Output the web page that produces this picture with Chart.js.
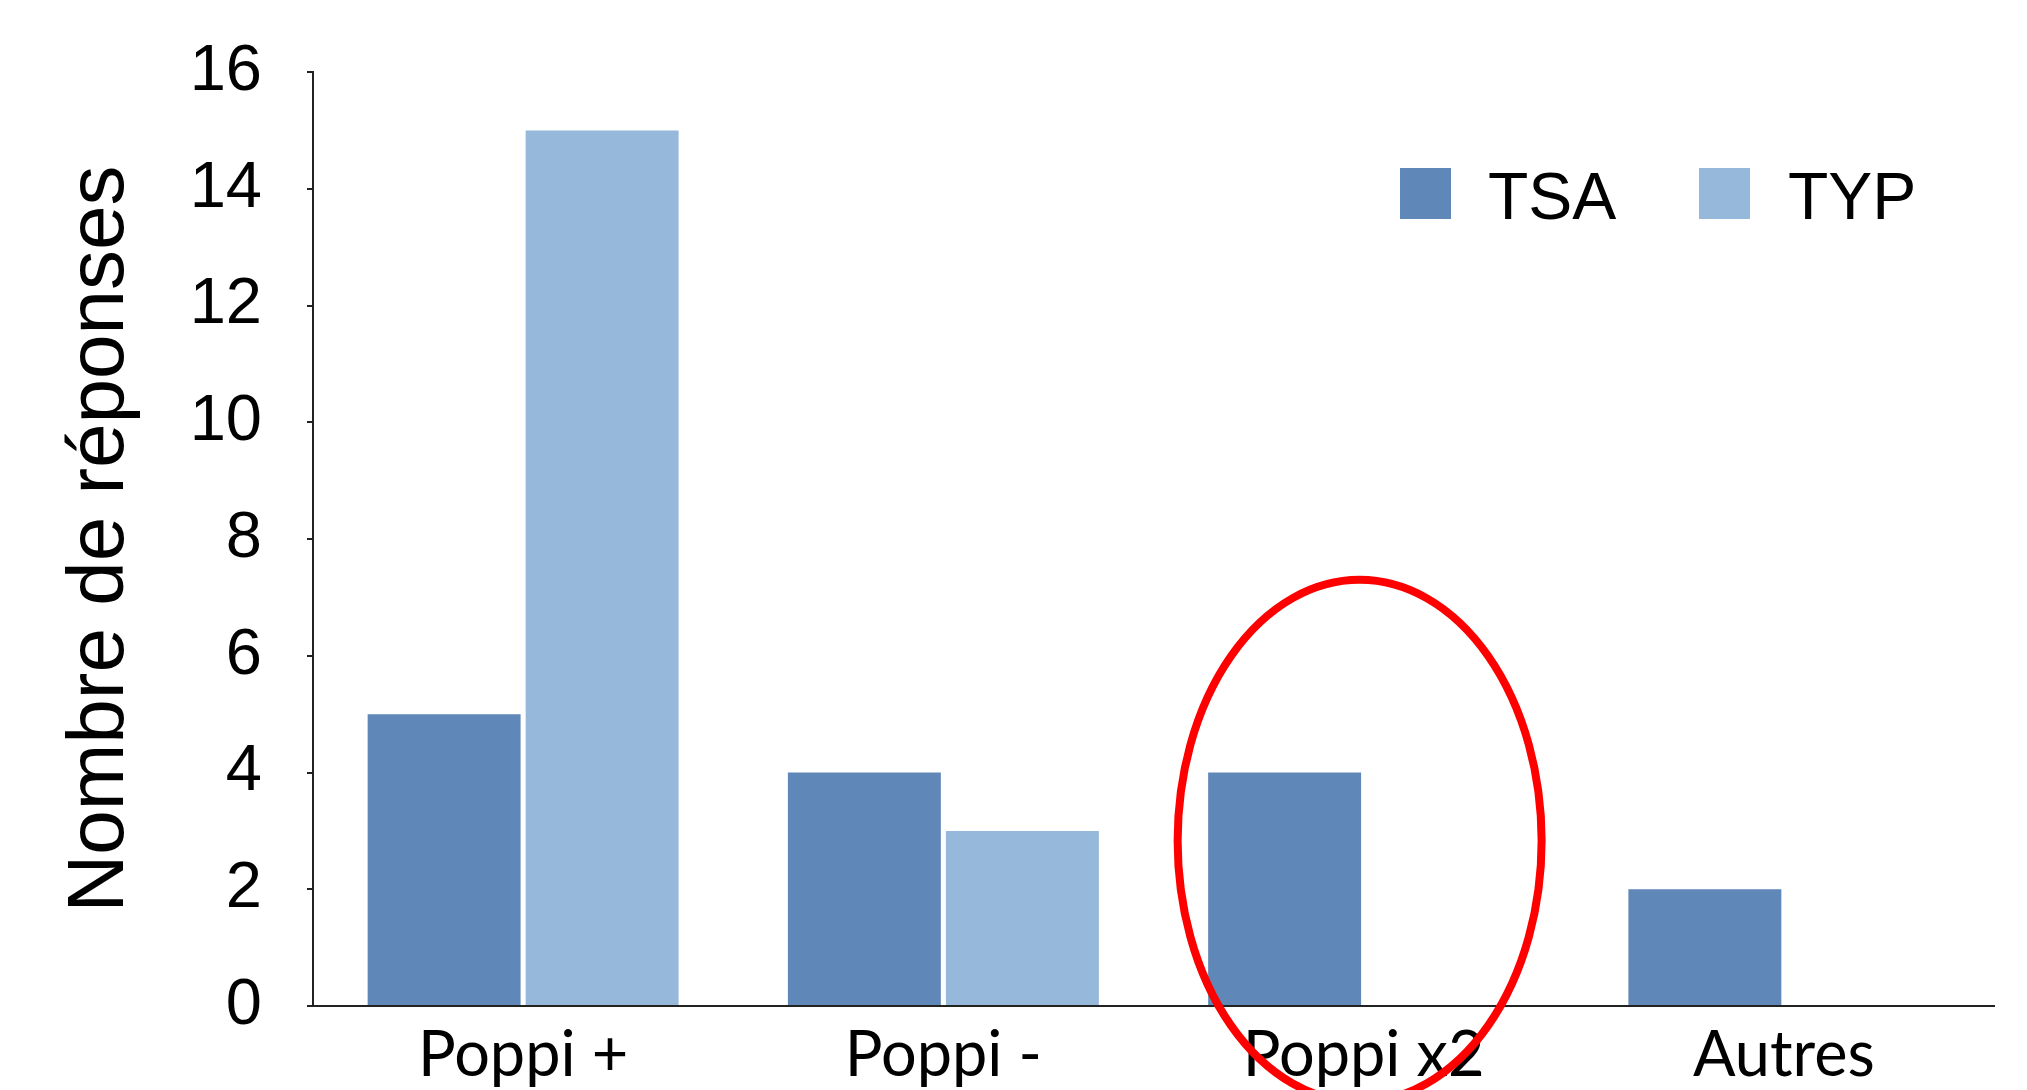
<!DOCTYPE html>
<html>
<head>
<meta charset="utf-8">
<script src="https://cdn.jsdelivr.net/npm/chart.js@4/dist/chart.umd.min.js"></script>
<style>
  html, body { margin: 0; padding: 0; background: #fff; }
  #wrap { width: 2027px; height: 1090px; position: relative; }
</style>
</head>
<body>
<div id="wrap"><canvas id="chart"></canvas></div>
<script>
// data
const categories = ['Poppi +', 'Poppi -', 'Poppi x2', 'Autres'];
const tsaValues = [5, 4, 4, 2];
const typValues = [15, 3, 0, 0];
const seriesNames = ['TSA', 'TYP'];
const yTicks = [0, 2, 4, 6, 8, 10, 12, 14, 16];

const colors = { tsa: '#5f87b8', typ: '#96b8db', axis: '#222', ring: '#ff0000' };

// legend drawn inside the plot, like the original slide
const insideLegend = {
  id: 'insideLegend',
  afterDraw(chart) {
    const ctx = chart.ctx;
    const spots = [{ box: 1400, text: 1488 }, { box: 1699, text: 1788 }];
    ctx.save();
    ctx.font = '66px "Liberation Sans", Arial, sans-serif';
    ctx.textBaseline = 'alphabetic';
    chart.data.datasets.forEach((ds, i) => {
      ctx.fillStyle = ds.backgroundColor;
      ctx.fillRect(spots[i].box, 168, 51, 51);
      ctx.fillStyle = '#000';
      ctx.fillText(ds.label, spots[i].text, 219);
    });
    ctx.restore();
  }
};

// red ring around the "Poppi x2" group
const ring = {
  id: 'ring',
  afterDraw(chart) {
    const x = chart.scales.x, y = chart.scales.y;
    const cx = x.getPixelForValue(2) - 4;
    const cy = y.getPixelForValue(2.83);
    const ctx = chart.ctx;
    ctx.save();
    ctx.strokeStyle = colors.ring;
    ctx.lineWidth = 8;
    ctx.beginPath();
    ctx.ellipse(cx, cy, 182, 261, 0, 0, Math.PI * 2);
    ctx.stroke();
    ctx.restore();
  }
};

new Chart(document.getElementById('chart'), {
  type: 'bar',
  data: {
    labels: categories,
    datasets: [
      { label: seriesNames[0], data: tsaValues, backgroundColor: colors.tsa },
      { label: seriesNames[1], data: typValues, backgroundColor: colors.typ }
    ]
  },
  options: {
    responsive: true,
    maintainAspectRatio: false,
    animation: false,
    categoryPercentage: 0.752,
    barPercentage: 0.968,
    layout: { padding: { top: 72, right: 33, left: 0, bottom: 0 } },
    plugins: { legend: { display: false }, tooltip: { enabled: false } },
    scales: {
      x: {
        grid: { display: false, drawTicks: false },
        border: { display: true, color: colors.axis, width: 2 },
        ticks: {
          color: '#000',
          padding: 18,
          font: { family: 'Lato, "Open Sans", sans-serif', size: 63, lineHeight: 1 }
        },
        afterFit(s) { s.height = 84; }
      },
      y: {
        min: 0,
        max: 16,
        afterBuildTicks(s) { s.ticks = yTicks.map(v => ({ value: v })); },
        grid: { drawOnChartArea: false, drawTicks: true, tickLength: 6, color: colors.axis, lineWidth: 2 },
        border: { display: true, color: colors.axis, width: 2 },
        ticks: {
          color: '#000',
          padding: 45,
          font: { family: '"Liberation Sans", Arial, sans-serif', size: 65 }
        },
        title: {
          display: true,
          text: 'Nombre de réponses',
          color: '#000',
          padding: { top: 61, bottom: 0 },
          font: { family: '"Liberation Sans", Arial, sans-serif', size: 80, lineHeight: 1 }
        },
        afterFit(s) {
          s.width = 313;
          s.paddingTop = 0;
          s.paddingBottom = 0;
        }
      }
    }
  },
  plugins: [insideLegend, ring]
});
</script>
</body>
</html>
